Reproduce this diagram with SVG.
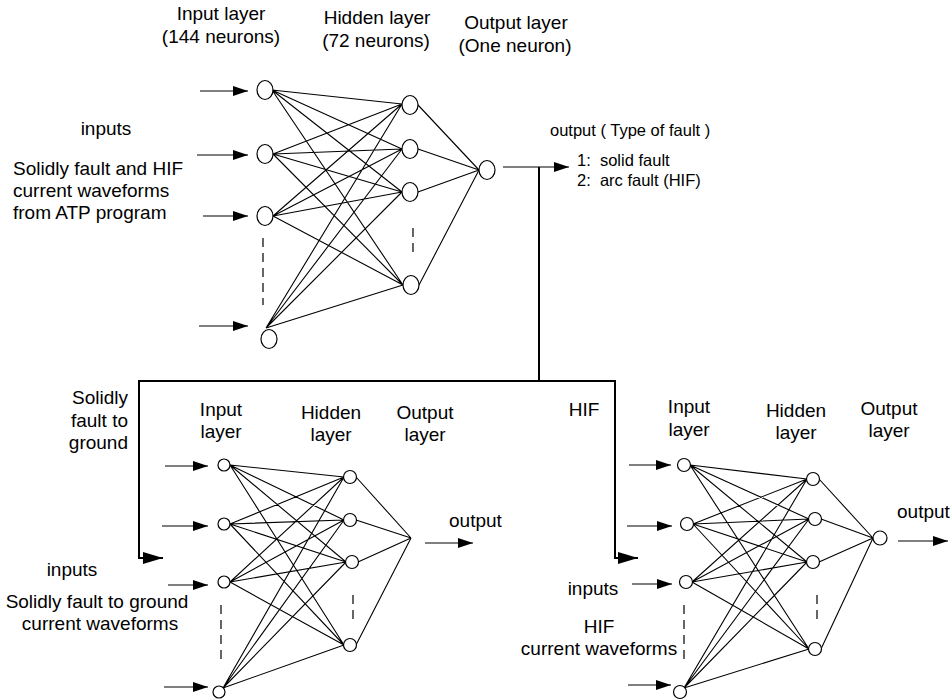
<svg xmlns="http://www.w3.org/2000/svg" width="952" height="700" viewBox="0 0 952 700">
<style>
text{font-family:"Liberation Sans",Arial,sans-serif;fill:#000}
.t19{font-size:19px}
.t16{font-size:16.5px}
.m{text-anchor:middle}
.e{text-anchor:end}
.n{fill:#fff;stroke:#000;stroke-width:1.2}
.w{stroke:#000;stroke-width:1.1;fill:none}
.a{stroke:#000;stroke-width:1.2;fill:none;marker-end:url(#ah)}
.b{stroke:#000;stroke-width:2;fill:none}
.ba{stroke:#000;stroke-width:2;fill:none;marker-end:url(#ahb)}
.d{stroke:#000;stroke-width:1.2;fill:none;stroke-dasharray:9 6}
</style>
<defs>
<marker id="ah" viewBox="0 0 15 10" refX="15" refY="5" markerWidth="15" markerHeight="10" markerUnits="userSpaceOnUse" orient="auto"><path d="M0,0 L15,5 L0,10 z" fill="#000"/></marker>
<marker id="ahb" viewBox="0 0 20 12" refX="20" refY="6" markerWidth="20" markerHeight="12" markerUnits="userSpaceOnUse" orient="auto"><path d="M0,0 L20,6 L0,12 z" fill="#000"/></marker>
</defs>

<g id="labels">
<text class="t19 m" x="221" y="20">Input layer</text>
<text class="t19 m" x="221" y="43">(144 neurons)</text>
<text class="t19 m" x="377" y="24">Hidden layer</text>
<text class="t19 m" x="376" y="47">(72 neurons)</text>
<text class="t19 m" x="516" y="29">Output layer</text>
<text class="t19 m" x="515" y="52">(One neuron)</text>
<text class="t19 m" x="106" y="135">inputs</text>
<text class="t19" x="13" y="175">Solidly fault and HIF</text>
<text class="t19" x="13" y="197">current waveforms</text>
<text class="t19" x="13" y="219">from ATP program</text>
<text class="t16" x="550" y="136">output ( Type of fault )</text>
<text class="t16" x="577" y="166" xml:space="preserve">1:  solid fault</text>
<text class="t16" x="577" y="186" xml:space="preserve">2:  arc fault (HIF)</text>

<text class="t19 e" x="128" y="404">Solidly</text>
<text class="t19 e" x="128" y="427">fault to</text>
<text class="t19 e" x="128" y="449">ground</text>
<text class="t19 m" x="221" y="416">Input</text>
<text class="t19 m" x="221" y="438">layer</text>
<text class="t19 m" x="331" y="419">Hidden</text>
<text class="t19 m" x="331" y="441">layer</text>
<text class="t19 m" x="425" y="419">Output</text>
<text class="t19 m" x="425" y="441">layer</text>
<text class="t19" x="449" y="527">output</text>
<text class="t19 m" x="72" y="576">inputs</text>
<text class="t19 m" x="97" y="608">Solidly fault to ground</text>
<text class="t19 m" x="100" y="630">current waveforms</text>

<text class="t19 m" x="584" y="416">HIF</text>
<text class="t19 m" x="689" y="413">Input</text>
<text class="t19 m" x="689" y="436">layer</text>
<text class="t19 m" x="796" y="417">Hidden</text>
<text class="t19 m" x="796" y="439">layer</text>
<text class="t19 m" x="889" y="415">Output</text>
<text class="t19 m" x="889" y="437">layer</text>
<text class="t19" x="897" y="518">output</text>
<text class="t19 m" x="593" y="595">inputs</text>
<text class="t19 m" x="599" y="633">HIF</text>
<text class="t19 m" x="599" y="655">current waveforms</text>
</g>

<g id="connectors">
<path class="w" d="M272,90 L402,104 M272,90 L402,149 M272,90 L402,192 M272,90 L403,285
M273,154 L402,104 M273,154 L402,149 M273,154 L402,192 M273,154 L403,285
M273,216 L402,104 M273,216 L402,149 M273,216 L402,192 M273,216 L403,285
M266,328 L402,104 M266,328 L402,149 M266,328 L402,192 M266,328 L403,285
M418,105 L479,170 M418,149 L479,170 M418,192 L479,170 M419,285 L479,170"/>
<line class="a" x1="200" y1="91" x2="248" y2="91"/>
<line class="a" x1="197" y1="155" x2="248" y2="155"/>
<line class="a" x1="203" y1="216" x2="248" y2="216"/>
<line class="a" x1="199" y1="326" x2="248" y2="326"/>
<line class="d" x1="263" y1="238" x2="263" y2="305"/>
<line class="d" x1="413" y1="228" x2="413" y2="256"/>
<line class="a" x1="503" y1="167" x2="569" y2="167"/>
<path class="b" d="M539,167 L539,381 M139,381 L615,381"/>
<path class="ba" d="M139,380 L139,558 L163,558"/>
<path class="ba" d="M615,380 L615,558 L638,558"/>

<path class="w" d="M230,465 L344,477 M230,465 L344,520 M230,465 L346,562 M230,465 L344,645
M230,524 L344,477 M230,524 L344,520 M230,524 L346,562 M230,524 L344,645
M230,582 L344,477 M230,582 L344,520 M230,582 L346,562 M230,582 L344,645
M223,688 L344,477 M223,688 L344,520 M223,688 L346,562 M223,688 L344,645
M356,477 L411,538 M356,520 L411,538 M358,562 L411,538 M356,645 L411,538"/>
<line class="a" x1="165" y1="466" x2="208" y2="466"/>
<line class="a" x1="162" y1="526" x2="208" y2="526"/>
<line class="a" x1="168" y1="585" x2="208" y2="585"/>
<line class="a" x1="164" y1="687" x2="208" y2="687"/>
<line class="d" x1="221" y1="605" x2="221" y2="665"/>
<line class="d" x1="353" y1="595" x2="353" y2="622"/>
<line class="a" x1="425" y1="543" x2="473" y2="543"/>

<path class="w" d="M690,465 L807,479 M690,465 L809,519 M690,465 L807,562 M690,465 L809,649
M693,524 L807,479 M693,524 L809,519 M693,524 L807,562 M693,524 L809,649
M692,582 L807,479 M692,582 L809,519 M692,582 L807,562 M692,582 L809,649
M684,688 L807,479 M684,688 L809,519 M684,688 L807,562 M684,688 L809,649
M819,479 L873,538 M821,519 L873,538 M819,562 L873,538 M821,649 L873,538"/>
<line class="a" x1="629" y1="465" x2="671" y2="465"/>
<line class="a" x1="627" y1="526" x2="672" y2="526"/>
<line class="a" x1="632" y1="584" x2="672" y2="584"/>
<line class="a" x1="628" y1="685" x2="671" y2="685"/>
<line class="d" x1="684" y1="605" x2="684" y2="663"/>
<line class="d" x1="817" y1="595" x2="817" y2="621"/>
<line class="a" x1="898" y1="541" x2="948" y2="541"/>
</g>

<g id="top-input-1"><ellipse class="n" cx="265" cy="90" rx="8" ry="9.5"/></g>
<g id="top-input-2"><ellipse class="n" cx="265" cy="154" rx="8" ry="9.5"/></g>
<g id="top-input-3"><ellipse class="n" cx="265" cy="216" rx="8" ry="9.5"/></g>
<g id="top-input-4"><ellipse class="n" cx="269" cy="339" rx="8" ry="9.5"/></g>
<g id="top-hidden-1"><ellipse class="n" cx="410" cy="105" rx="8" ry="9.5"/></g>
<g id="top-hidden-2"><ellipse class="n" cx="410" cy="149" rx="8" ry="9.5"/></g>
<g id="top-hidden-3"><ellipse class="n" cx="410" cy="192" rx="8" ry="9.5"/></g>
<g id="top-hidden-4"><ellipse class="n" cx="411" cy="285" rx="8" ry="9.5"/></g>
<g id="top-output"><ellipse class="n" cx="487" cy="170" rx="8" ry="9.5"/></g>

<g id="bl-input-1"><circle class="n" cx="224" cy="465" r="6"/></g>
<g id="bl-input-2"><circle class="n" cx="224" cy="524" r="6"/></g>
<g id="bl-input-3"><circle class="n" cx="224" cy="582" r="6"/></g>
<g id="bl-input-4"><circle class="n" cx="219" cy="692" r="6"/></g>
<g id="bl-hidden-1"><circle class="n" cx="350" cy="477" r="6.5"/></g>
<g id="bl-hidden-2"><circle class="n" cx="350" cy="520" r="6.5"/></g>
<g id="bl-hidden-3"><circle class="n" cx="352" cy="562" r="6.5"/></g>
<g id="bl-hidden-4"><circle class="n" cx="350" cy="645" r="6.5"/></g>

<g id="br-input-1"><circle class="n" cx="684" cy="465" r="6.5"/></g>
<g id="br-input-2"><circle class="n" cx="687" cy="524" r="6.5"/></g>
<g id="br-input-3"><circle class="n" cx="686" cy="582" r="6.5"/></g>
<g id="br-input-4"><circle class="n" cx="680" cy="692" r="6.5"/></g>
<g id="br-hidden-1"><circle class="n" cx="813" cy="479" r="6.5"/></g>
<g id="br-hidden-2"><circle class="n" cx="815" cy="519" r="6.5"/></g>
<g id="br-hidden-3"><circle class="n" cx="813" cy="562" r="6.5"/></g>
<g id="br-hidden-4"><circle class="n" cx="815" cy="649" r="6.5"/></g>
<g id="br-output"><circle class="n" cx="880" cy="538" r="7"/></g>
</svg>
